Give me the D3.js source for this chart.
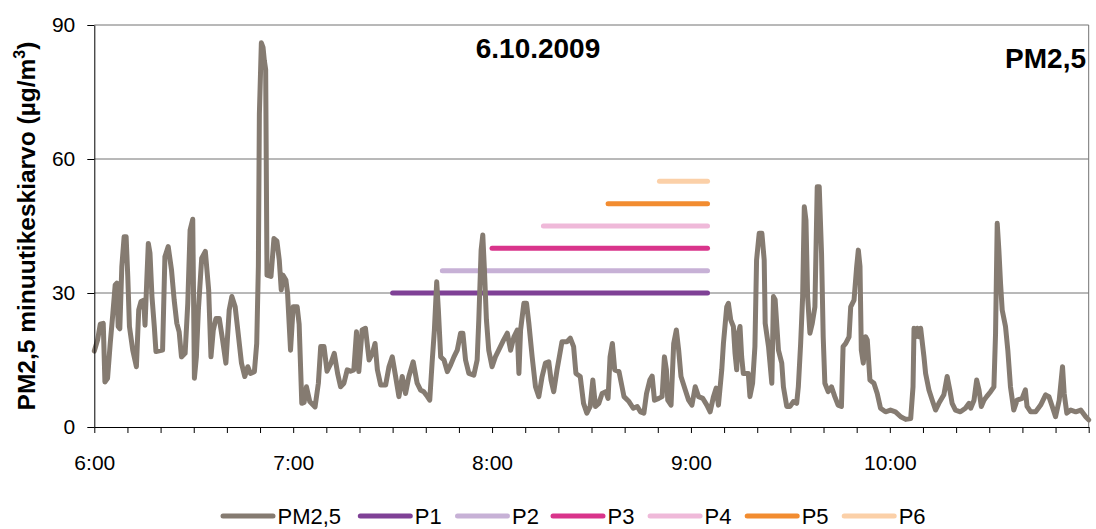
<!DOCTYPE html>
<meta charset="utf-8">
<style>
body { margin: 0; background: #fff; }
svg { font-family: Arial, "Liberation Sans", sans-serif; }
.grid { stroke: #737373; stroke-width: 1px; }
.axis path, .axis line { stroke: #000; }
.axis text { font-size: 21px; fill: #000; }
.pm { fill: none; stroke: #857b71; stroke-width: 5px; stroke-linejoin: round; stroke-linecap: round; }
.period { stroke-width: 5px; stroke-linecap: round; }
.lbl { font-weight: bold; fill: #000; }
.leg text { font-size: 22px; fill: #000; }
</style>
<svg width="1096" height="529"></svg>
<script src="https://d3js.org/d3.v7.min.js"></script>
<script>

// minutes after 6:00 and PM2,5 minute means (µg/m3)
var minutes = [0,1,1.8,2.7,3.2,4,4.8,5.6,6.3,6.8,7.2,7.7,8.3,9,9.6,10.1,10.6,11.6,12.7,13.4,14.1,14.9,15.3,15.8,16.3,16.8,17.4,18.1,18.6,20.6,21.3,22.3,23.3,24.1,24.9,25.6,26.3,27.4,28.2,28.9,29.7,30.2,30.8,31.4,32.4,33.5,34.5,35.2,35.9,36.7,37.7,38.7,39.7,40.7,41.5,42.5,43.4,44.4,45.4,46.3,47.1,48.3,49,49.5,49.8,50.4,50.9,51.3,51.7,52.1,53.3,54.2,55.1,55.8,56.4,56.9,57.8,58.3,59.2,60,61.2,61.8,62.6,63.3,64,65,66.6,67.6,68.3,69.3,70.2,71.4,72.4,73.4,74.3,75.3,76.3,77.3,78.3,79.1,79.8,80.8,81.8,82.9,83.9,84.7,85.4,86.4,87.9,88.9,89.9,90.9,91.9,92.9,93.9,94.9,96.2,97.4,98.4,99.4,100.5,101.2,101.9,102.6,103.3,103.8,104.5,105.5,106.5,107.5,108.5,109.5,110.5,111.2,112,113,114.5,115.5,116,116.7,117.2,117.7,118.3,119,120,121,122,123.5,124.6,125.6,126.6,127.6,128.1,128.6,129.6,130.4,131.1,132.1,133.1,134.1,135.1,136.1,137.1,137.8,138.6,139.6,141.1,142.6,143.6,144.6,145.3,146.6,147.6,148.6,149.6,150.4,151.2,152.2,153.2,154.3,155,155.6,156.3,157,158.3,159.8,161.3,162.6,163.8,164.8,165.8,166.6,167.6,168.3,169,170.3,171.3,172,172.6,173,174,174.8,175.6,176.3,177,178.3,179.3,180.3,181.3,182.3,183.6,184.8,185.8,186.8,187.6,188.3,189.3,189.8,190.8,191.3,192,192.8,193.3,193.8,194.3,194.8,195.3,195.8,197.3,197.8,198.6,199.3,199.8,200.6,201.4,202.1,202.4,203.4,204.4,204.9,205.4,206.4,207.4,207.9,208.9,209.9,210.9,211.9,212.4,213.1,213.7,214.2,214.7,215.2,215.9,216.6,217.4,218.1,218.7,219.4,219.9,220.4,221.4,222.4,223.4,224.4,225.4,225.9,226.7,227.7,228.2,229.2,230,230.5,231,231.4,232,232.7,233.2,234,235.2,236.2,237.2,238.7,240.2,241.7,243.3,244.8,246.3,247,247.3,247.8,248.3,248.8,249.3,250.3,250.8,251.8,252.8,253.8,254.8,256.3,257.3,258.1,258.8,259.8,261.3,262.8,263.9,264.4,265.4,266.2,266.9,267.6,268.4,269.2,270.4,271.4,271.9,272.4,272.9,273.4,273.9,274.9,275.6,276.4,277.4,278.4,279.9,280.9,281.4,282.5,284,285.5,287,288,289,290,291.1,292.1,292.6,293.4,294.6,296.1,297.6,299.1,300];
var pm25 = [17,19.5,23,23.2,10.1,10.9,18.7,25.4,31.8,32.2,22.5,22,35.9,42.6,42.6,33.7,22.5,17.2,13.5,26.2,28.1,28.4,22.8,32.2,41.1,38.9,29.2,22.5,16.9,17.2,38.1,40.4,35.1,28.4,23.2,21.3,15.7,16.5,27.7,44.1,46.5,10.9,15.7,26.2,37.8,39.3,30.7,15.7,21.7,24.3,24.3,19.5,14.3,26.2,29.2,26.9,21,14.3,11.3,13.5,12,12.4,18.7,36,70,86,85,82,80,34,33.7,42.2,41.6,37.4,30.7,34,32.9,30,17.2,26.9,26.9,23,5.3,5.5,9,5.7,4.5,9.8,18,18,12.5,14.3,16.5,12,9,9.8,12.8,12.5,12.8,21.3,12.4,21.7,22.1,15,16.5,18.7,12.8,9.4,9.4,13.5,15.7,11.3,6.8,11.3,7.5,11.3,14.6,9.8,8.3,7.9,6.8,6,14.3,21.7,32.5,26.2,15.7,15,12.4,13.9,15.7,17.2,21,21,15,12,11.6,15,24,39.6,43,35.1,24,17.2,13.5,15.7,17.2,19.5,21,17.2,20.2,21.7,12,21.7,27.7,27.7,23.2,15.7,9,6.8,11.3,14.3,14.6,10.5,7.9,12.8,19.1,19.1,19.9,18,12,11.3,5.3,3.1,4.6,10.5,4.6,5.3,7.5,7.9,6.4,15.7,18.7,12.8,12.4,6.8,5.7,4.2,4.6,3.4,3.1,7.5,10.5,11.4,6,6.4,6.8,15.7,12.8,6,4.9,18.7,21.7,17.2,11.3,8.3,6,4.9,9,6.8,6.4,4.9,3.4,6.8,8.7,4.9,12.8,18.7,26.9,27.7,24,22.5,16.5,12.8,21,22.5,15.7,12,12,6.8,9.8,18,37.4,43.4,43.4,37.4,23.2,18,9.8,29.2,28.5,17.2,14.3,9,4.6,4.6,5.7,5.3,9,18.7,29.2,49.3,46.3,29.2,21,23.2,26.9,53.8,53.8,38.9,20.2,9.8,7.9,9,6.8,4.9,4.6,18,18.7,20.2,26.9,28.4,35.9,39.6,36,17.2,14.3,20.2,19.5,10.5,9.8,7.5,4.2,3.4,3.8,3.4,2.3,1.7,1.9,9,22.1,20.2,22.1,20.2,22.1,15.7,12,8.3,6,3.8,5.3,7.2,11.3,8.3,5.3,3.8,3.4,4.2,5.3,4.2,6,10.5,8.3,4.6,6,6.8,7.9,9,21,45.6,39.6,32.2,26.2,22.5,17.2,9,3.8,6,6.4,8.3,4.6,3.4,3.4,4.9,7.2,6.8,4.6,2.3,6,13.5,7.5,3.1,3.8,3.4,3.8,2.3,1.6];

// measurement periods P1..P6: start / end (minutes after 6:00) and level
var periods = ["P1","P2","P3","P4","P5","P6"];
var periodStart = [90,105,120,135.5,155,170.5];
var periodEnd = [185,185,185,185,185,185];
var periodLevel = [30,35,40,45,50,55];

var seriesNames = ["PM2,5","P1","P2","P3","P4","P5","P6"];
var seriesColors = ["#857b71","#7f4196","#c7b1d6","#d9348b","#efb9d9","#f28c30","#fbd0a8"];

var yTicks = [0,30,60,90];
var hourTicks = [0,60,120,180,240];
var hourLabels = ["6:00","7:00","8:00","9:00","10:00"];

var svg = d3.select('svg'),
    margin = {top: 25, right: 7.3, bottom: 102, left: 94.3},
    width = +svg.attr("width"),
    height = +svg.attr("height");

var x = d3.scaleLinear()
    .domain([0,300])
    .range([margin.left, width - margin.right]);

var y = d3.scaleLinear()
    .domain([0,90])
    .range([height - margin.bottom, margin.top]);

// grid lines
svg.selectAll('.grid')
   .data(yTicks.filter(function(d){ return d > 0 }))
   .enter()
   .append('line')
   .attr('class','grid')
   .attr('x1', x(0))
   .attr('x2', x(300))
   .attr('y1', function(d){ return y(d) })
   .attr('y2', function(d){ return y(d) })

svg.append('line')
   .attr('class','grid')
   .attr('x1', x(300)).attr('x2', x(300))
   .attr('y1', y(0)).attr('y2', y(90))

// period bars
svg.selectAll('.period')
   .data(periods)
   .enter()
   .append('line')
   .attr('class','period')
   .attr('x1', function(d,i){ return x(periodStart[i]) })
   .attr('x2', function(d,i){ return x(periodEnd[i]) })
   .attr('y1', function(d,i){ return y(periodLevel[i]) })
   .attr('y2', function(d,i){ return y(periodLevel[i]) })
   .style('stroke', function(d,i){ return seriesColors[i+1] })

var line = d3.line()
    .x(function(d){ return x(d[0]) })
    .y(function(d){ return y(d[1]) });

svg.append('path')
   .datum(minutes.map(function(m,i){ return [m, pm25[i]] }))
   .attr('class','pm')
   .attr('d', line)

// axes
svg.append('g')
   .attr('class','axis')
   .attr('transform','translate(' + x(0) + ',0)')
   .call(d3.axisLeft(y).tickValues(yTicks).tickSizeInner(7).tickSizeOuter(0).tickPadding(12))

svg.append('g')
   .attr('class','axis')
   .attr('transform','translate(0,' + y(0) + ')')
   .call(d3.axisBottom(x)
        .tickValues(d3.range(0,301,10))
        .tickSizeInner(6).tickSizeOuter(0).tickPadding(22)
        .tickFormat(function(d){
          var k = hourTicks.indexOf(d);
          return k >= 0 ? hourLabels[k] : '';
        }))

svg.selectAll('.axis .domain').attr('stroke','#000')

// titles
svg.append('text')
   .attr('class','lbl')
   .attr('x', 538).attr('y', 58)
   .attr('text-anchor','middle')
   .style('font-size','28px')
   .text('6.10.2009')

svg.append('text')
   .attr('class','lbl')
   .attr('x', 1086).attr('y', 68)
   .attr('text-anchor','end')
   .style('font-size','28px')
   .text('PM2,5')

var ytitle = svg.append('text')
   .attr('class','lbl')
   .attr('transform','translate(35,226) rotate(-90)')
   .attr('text-anchor','middle')
   .style('font-size','24.5px')
ytitle.append('tspan').text('PM2,5 minuutikeskiarvo (µg/m')
ytitle.append('tspan').attr('dy',-10).style('font-size','16px').text('3')
ytitle.append('tspan').attr('dy',10).text(')')

// legend
var legX = [220.5,357.8,455,550.5,647.6,744.7,841.7];
var leg = svg.selectAll('.leg')
   .data(seriesNames)
   .enter()
   .append('g')
   .attr('class','leg')
   .attr('transform', function(d,i){ return 'translate(' + legX[i] + ',516)' })

leg.append('line')
   .attr('x1', 2.5).attr('x2', 52.5)
   .attr('y1', 0).attr('y2', 0)
   .style('stroke', function(d,i){ return seriesColors[i] })
   .style('stroke-width', 5)
   .style('stroke-linecap','round')

leg.append('text')
   .attr('x', 57).attr('y', 8)
   .text(function(d){ return d })

</script>
